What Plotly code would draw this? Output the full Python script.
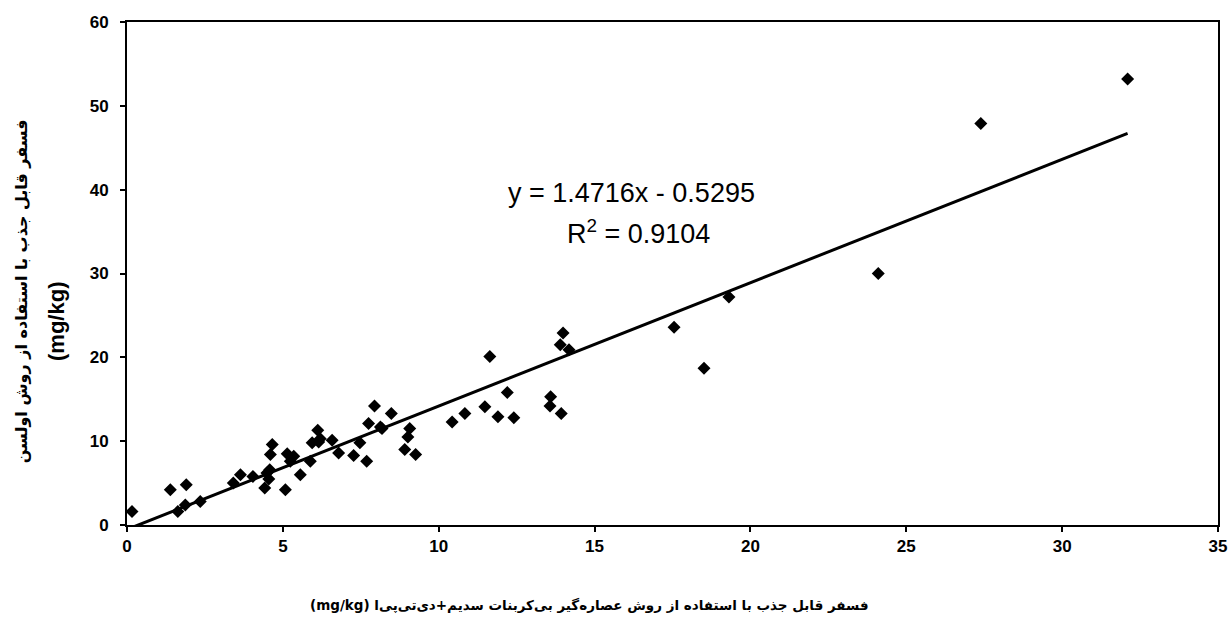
import plotly.graph_objects as go

# Data
x_vals = [0.16, 1.39, 1.63, 1.87, 1.90, 2.35, 3.41, 3.64, 4.04, 4.42, 4.49, 4.58, 4.55,
          4.60, 4.66, 5.08, 5.14, 5.35, 5.24, 5.56, 5.88, 5.94, 6.12, 6.15, 6.20, 6.58,
          6.79, 7.27, 7.47, 7.69, 7.75, 7.94, 8.13, 8.18, 8.48, 8.91, 9.01, 9.07, 9.26,
          10.43, 10.84, 11.48, 11.64, 11.90, 12.20, 12.41, 13.57, 13.59, 13.93, 13.90,
          13.99, 14.18, 17.55, 18.51, 19.31, 24.10, 27.39, 32.10]
y_vals = [1.6, 4.2, 1.6, 2.4, 4.8, 2.8, 5.0, 6.0, 5.8, 4.4, 6.2, 6.6, 5.5,
          8.4, 9.6, 4.2, 8.5, 8.2, 7.6, 6.0, 7.6, 9.8, 11.3, 9.9, 10.3, 10.1,
          8.6, 8.3, 9.8, 7.6, 12.1, 14.2, 11.7, 11.5, 13.3, 9.0, 10.5, 11.5, 8.4,
          12.3, 13.3, 14.1, 20.1, 12.9, 15.8, 12.8, 14.2, 15.3, 13.3, 21.5,
          22.9, 20.9, 23.6, 18.7, 27.2, 30.0, 47.9, 53.2]

slope = 1.4716
intercept = -0.5295
r_squared = 0.9104

x_ticks = [0, 5, 10, 15, 20, 25, 30, 35]
y_ticks = [0, 10, 20, 30, 40, 50, 60]

x_title = "(mg/kg) فسفر قابل جذب با استفاده از روش عصاره‌گیر بی‌کربنات سدیم+دی‌تی‌پی‌ا"
y_title_1 = "فسفر قابل جذب با استفاده از روش اولسن"
y_title_2 = "(mg/kg)"

line_x = [min(x_vals), max(x_vals)]
line_y = [slope * v + intercept for v in line_x]

fig = go.Figure()
fig.add_trace(go.Scatter(
    x=line_x, y=line_y, mode="lines",
    line=dict(color="black", width=3), showlegend=False, hoverinfo="skip"))
fig.add_trace(go.Scatter(
    x=x_vals, y=y_vals, mode="markers",
    marker=dict(symbol="diamond", size=10, color="black"),
    showlegend=False, cliponaxis=False))

axis_common = dict(
    showline=True, linecolor="black", linewidth=2, mirror=True,
    showgrid=False, zeroline=False, ticks="outside", ticklen=5,
    tickcolor="black", tickwidth=1.5, automargin=False,
    tickfont=dict(family="Liberation Sans, Arial", size=17, color="black"),
)

fig.update_layout(
    width=1228, height=631,
    margin=dict(l=127, r=10, t=22, b=106, autoexpand=False),
    paper_bgcolor="white", plot_bgcolor="white",
    xaxis=dict(range=[0, 35], tickvals=x_ticks,
               ticktext=[f"<b>{t}</b>" for t in x_ticks], **axis_common),
    yaxis=dict(range=[0, 60], tickvals=y_ticks,
               ticktext=[f"<b>{t}</b>" for t in y_ticks], ticklabelstandoff=8,
               **axis_common),
)

fig.add_annotation(
    x=16.2, y=39.6, xref="x", yref="y", showarrow=False,
    text=f"y = {slope}x - {abs(intercept)}",
    font=dict(family="Liberation Sans, Arial", size=27, color="black"))
fig.add_annotation(
    x=16.4, y=34.9, xref="x", yref="y", showarrow=False,
    text=f"R<sup>2</sup> = {r_squared}",
    font=dict(family="Liberation Sans, Arial", size=27, color="black"))

fig.add_annotation(
    x=-0.097, y=0.465, xref="paper", yref="paper", showarrow=False,
    xanchor="center", yanchor="middle",
    text=f"<b>{y_title_1}</b>", textangle=-90,
    font=dict(family="DejaVu Sans", size=16, color="black"))
fig.add_annotation(
    x=-0.064, y=0.404, xref="paper", yref="paper", showarrow=False,
    xanchor="center", yanchor="middle",
    text=f"<b>{y_title_2}</b>", textangle=-90,
    font=dict(family="Liberation Sans, Arial", size=22, color="black"))
fig.add_annotation(
    x=0.424, y=-0.159, xref="paper", yref="paper", showarrow=False,
    xanchor="center", yanchor="middle",
    text=f"<b>{x_title}</b>",
    font=dict(family="DejaVu Sans", size=13.5, color="black"))

fig.write_html("out.html", config={"displayModeBar": False},
               post_script="document.body.style.margin='0px';")
